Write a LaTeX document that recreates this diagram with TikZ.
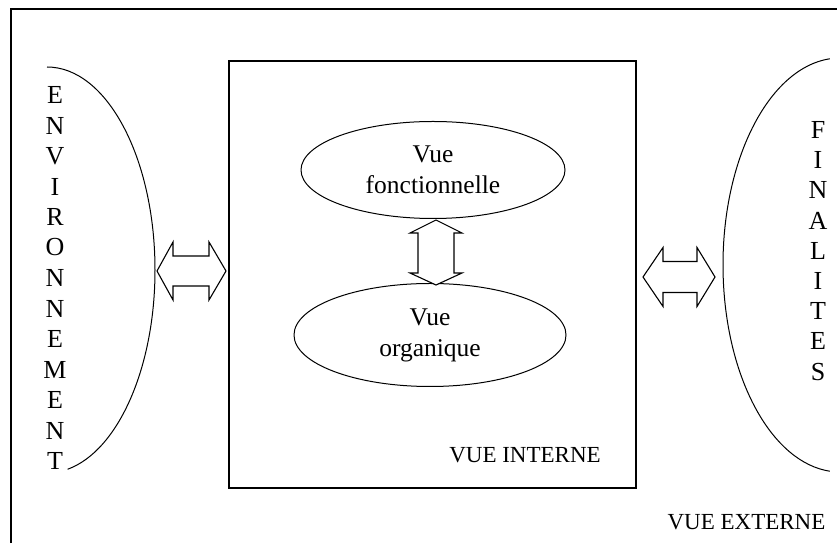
\documentclass[tikz,border=0pt]{standalone}
\usepackage{fontspec}
\setmainfont{Liberation Serif}
\usetikzlibrary{shapes.geometric}

\begin{document}
\begin{tikzpicture}[x=1pt,y=1pt,
  frameline/.style={line width=1.5pt},
  boxline/.style={draw, line width=1.1pt},
  arcline/.style={line width=1pt},
  blockarrow/.style={draw, line width=1.1pt, fill=white, line join=miter},
  viewnode/.style={ellipse, draw, line width=1pt, inner sep=0pt, align=center,
                   font=\fontsize{25.5}{31}\selectfont},
  letter/.style={inner sep=0pt, font=\fontsize{26}{30}\selectfont},
  label/.style={inner sep=0pt, font=\fontsize{23}{27}\selectfont}
]
\useasboundingbox (0,0) rectangle (837,543);

% outer frame (only its left and top sides fall inside the page)
\draw[frameline] (11,0) -- (11,534) -- (837,534);

% internal view box
\node[boxline, minimum width=407pt, minimum height=427pt, inner sep=0pt]
  (interne) at (432.5,268.5) {};
\node[label] (vueinterne) at (525,88) {VUE INTERNE};

% the two views inside
\node[viewnode, minimum width=264pt, minimum height=97pt]
  (fonc) at (433,373) {Vue\\fonctionnelle};
\node[viewnode, minimum width=272pt, minimum height=103pt]
  (org) at (430,208) {Vue\\organique};

% vertical double block arrow between the views
\begin{scope}[shift={(436,0)}]
  \draw[blockarrow] (0,323) -- (26,310) -- (18,310) -- (18,270) -- (26,270)
    -- (0,258) -- (-26,270) -- (-18,270) -- (-18,310) -- (-26,310) -- cycle;
\end{scope}

% environment side
\draw[arcline] (47,476) arc[start angle=90, end angle=-79, x radius=108, y radius=203];
\foreach \c [count=\i from 0] in {E,N,V,I,R,O,N,N,E,M,E,N,T}
  \node[letter] (env-\i) at (55,448-30.5*\i) {\c};

% finality side
\draw[arcline] (829.8,484.2) arc[start angle=95, end angle=265, x radius=117, y radius=207];
\foreach \c [count=\i from 0] in {F,I,N,A,L,I,T,E,S}
  \node[letter] (fin-\i) at (818,413-30.2*\i) {\c};

% horizontal double block arrows
\begin{scope}[shift={(0,272)}]
  \draw[blockarrow] (157,0) -- (173,29) -- (173,15) -- (209,15) -- (209,29)
    -- (226,0) -- (209,-29) -- (209,-15) -- (173,-15) -- (173,-29) -- cycle;
\end{scope}
\begin{scope}[shift={(0,266)}]
  \draw[blockarrow] (643,0) -- (663,29.5) -- (663,15.5) -- (697,15.5) -- (697,29.5)
    -- (715,0) -- (697,-29.5) -- (697,-15.5) -- (663,-15.5) -- (663,-29.5) -- cycle;
\end{scope}

\node[label] (vueexterne) at (746.5,21) {VUE EXTERNE};
\end{tikzpicture}
\end{document}
